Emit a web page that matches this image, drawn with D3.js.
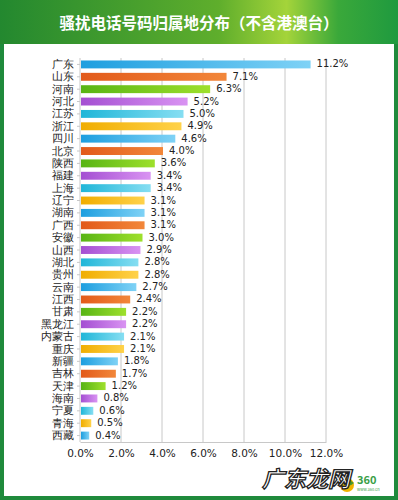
<!DOCTYPE html>
<html>
<head>
<meta charset="UTF-8">
<script src="https://cdn.jsdelivr.net/npm/d3@7"></script>
<style>
  body { margin: 0; background: #fff; }
  svg { display: block; font-family: "Noto Sans CJK SC", "DejaVu Sans", sans-serif; }
</style>
</head>
<body>
<svg id="chart"></svg>
<script>
// data
var provinces = ["广东","山东","河南","河北","江苏","浙江","四川","北京","陕西","福建","上海",
  "辽宁","湖南","广西","安徽","山西","湖北","贵州","云南","江西","甘肃","黑龙江","内蒙古",
  "重庆","新疆","吉林","天津","海南","宁夏","青海","西藏"];
var shares = [11.2,7.1,6.3,5.2,5.0,4.9,4.6,4.0,3.6,3.4,3.4,3.1,3.1,3.1,3.0,2.9,2.8,2.8,2.7,
  2.4,2.2,2.2,2.1,2.1,1.8,1.7,1.2,0.8,0.6,0.5,0.4];
var tickValues = [0,2,4,6,8,10,12];
var barColors = [["#1d9edf","#7fd2f6"],["#e25a1a","#f2873a"],["#58b414","#9ee02c"],
  ["#a44fd2","#d993f2"],["#20b6d8","#86def2"],["#f0ad00","#ffd24a"]];

var width = 398, height = 500;
var svg = d3.select("#chart").attr("width", width).attr("height", height);
var defs = svg.append("defs");

// header gradient
var hg = defs.append("linearGradient").attr("id", "hdr");
hg.append("stop").attr("offset", "0%").attr("stop-color", "#23882f");
hg.append("stop").attr("offset", "55%").attr("stop-color", "#5fae2c");
hg.append("stop").attr("offset", "72%").attr("stop-color", "#a4d43a");
hg.append("stop").attr("offset", "85%").attr("stop-color", "#3aa83a");
hg.append("stop").attr("offset", "100%").attr("stop-color", "#1f9a3f");

barColors.forEach(function(c, i) {
  var g = defs.append("linearGradient").attr("id", "bar" + i);
  g.append("stop").attr("offset", "0%").attr("stop-color", c[0]);
  g.append("stop").attr("offset", "100%").attr("stop-color", c[1]);
});

// frame
svg.append("rect").attr("width", width).attr("height", height).attr("fill", "#1f8a3c");
svg.append("rect").attr("width", width).attr("height", 44).attr("fill", "url(#hdr)");
svg.append("rect").attr("x", 4).attr("y", 44).attr("width", width - 8).attr("height", 452)
  .attr("fill", "#fff");

svg.append("text")
  .attr("x", width / 2).attr("y", 25)
  .attr("text-anchor", "middle").attr("dominant-baseline", "middle")
  .attr("fill", "#fff").attr("font-size", 15.5).attr("font-weight", "bold")
  .text("骚扰电话号码归属地分布（不含港澳台）");

var x = d3.scaleLinear().domain([0, 12]).range([80, 326]);
var y = d3.scaleBand().domain(provinces).range([58, 442]).paddingInner(0.36).paddingOuter(0.2);

// grid
svg.append("g").selectAll("line").data(tickValues.slice(1)).join("line")
  .attr("x1", function(d) { return x(d); }).attr("x2", function(d) { return x(d); })
  .attr("y1", 58).attr("y2", 442)
  .attr("stroke", "#c8c8c8").attr("stroke-width", 1);

// x axis
var xAxis = svg.append("g").attr("transform", "translate(0,442)")
  .call(d3.axisBottom(x).tickValues(tickValues).tickSize(0)
    .tickFormat(function(d) { return d.toFixed(1) + "%"; }));
xAxis.select(".domain").attr("stroke", "#c8c8c8");
xAxis.selectAll("text").attr("font-size", 10.5).attr("fill", "#222")
  .attr("dy", "0").attr("y", 15)
  .style("font-family", "'DejaVu Sans', sans-serif");

// y axis
var yAxis = svg.append("g").attr("transform", "translate(80,0)")
  .call(d3.axisLeft(y).tickSize(3).tickPadding(3));
yAxis.select(".domain").attr("stroke", "#c8c8c8").attr("d", "M0,58V442");
yAxis.selectAll("line").attr("stroke", "#c8c8c8");
yAxis.selectAll("text").attr("font-size", 11).attr("fill", "#222");

// bars
svg.append("g").selectAll("rect").data(shares).join("rect")
  .attr("x", x(0) + 1)
  .attr("y", function(d, i) { return y(provinces[i]); })
  .attr("width", function(d) { return x(d) - x(0); })
  .attr("height", y.bandwidth())
  .attr("fill", function(d, i) { return "url(#bar" + (i % 6) + ")"; });

svg.append("g").selectAll("text").data(shares).join("text")
  .attr("x", function(d) { return x(d) + 7; })
  .attr("y", function(d, i) { return y(provinces[i]) + y.bandwidth() / 2; })
  .attr("dominant-baseline", "middle")
  .attr("font-size", 10).attr("fill", "#222")
  .style("font-family", "'DejaVu Sans', sans-serif")
  .text(function(d) { return d.toFixed(1) + "%"; });

// watermark
svg.append("circle").attr("cx", 347).attr("cy", 485).attr("r", 7).attr("fill", "#f0b400");
svg.append("path").attr("d", "M341,482 Q347,477 354,483 Q348,489 341,482Z").attr("fill", "#4a9a2a");
svg.append("text").attr("x", 306).attr("y", 487)
  .attr("text-anchor", "middle").attr("font-size", 22).attr("font-weight", "bold")
  .attr("fill", "#fff").attr("stroke", "#222").attr("stroke-width", 1.3)
  .attr("font-style", "italic")
  .text("广东龙网");
svg.append("text").attr("x", 357).attr("y", 484)
  .attr("font-size", 11).attr("font-weight", "bold").attr("fill", "#3aa048")
  .text("360");
svg.append("text").attr("x", 357).attr("y", 491)
  .attr("font-size", 4).attr("fill", "#3aa048")
  .text("www.360.cn");
</script>
</body>
</html>
